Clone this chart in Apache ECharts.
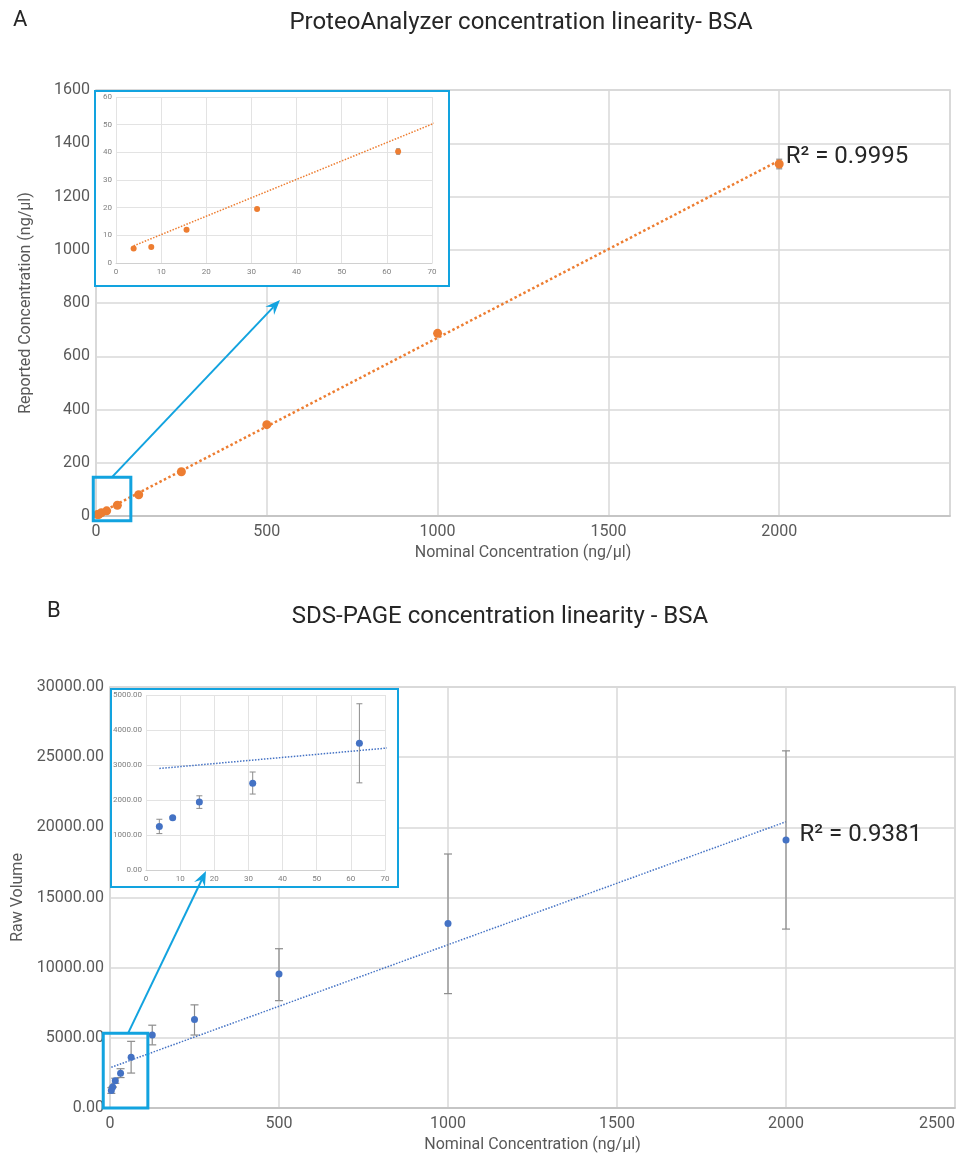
<!DOCTYPE html>
<html><head><meta charset="utf-8">
<script src="https://cdn.jsdelivr.net/npm/echarts@6/dist/echarts.min.js"></script>
<style>html,body{margin:0;padding:0;background:#fff}#c{width:958px;height:1154px}</style>
</head><body><div id="c"></div>
<script>
// ---------- data ----------
const nominal = [3.90625, 7.8125, 15.625, 31.25, 62.5, 125, 250, 500, 1000, 2000];
const proteoReported = [5.2, 5.8, 12.0, 19.5, 40.3, 80, 166, 343, 686, 1322];
const proteoErr = [0.3, 0.3, 0.4, 0.5, 1.0, 2, 3, 4, 6, 18];
const proteoTrend = [[3.90625, 6.2], [2000, 1335]];
const proteoR2 = 'R² = 0.9995';
const sdsRaw = [1240, 1490, 1940, 2480, 3620, 5200, 6300, 9550, 13150, 19100];
const sdsLow = [1040, 1460, 1760, 2170, 2490, 4500, 5200, 7650, 8150, 12750];
const sdsHigh = [1450, 1520, 2120, 2800, 4750, 5900, 7350, 11350, 18100, 25450];
const sdsTrend = [[3.90625, 2900], [2000, 20400]];
const sdsR2 = 'R² = 0.9381';
const titleA = 'ProteoAnalyzer concentration linearity- BSA';
const titleB = 'SDS-PAGE concentration linearity - BSA';
const xName = 'Nominal Concentration (ng/µl)';
const yNameA = 'Reported Concentration (ng/µl)';
const yNameB = 'Raw Volume';
const insetMaxX = 70;

// ---------- styles ----------
const FONT = 'Roboto, "Noto Sans", sans-serif';
const ORANGE = '#ED7D31', BLUE = '#4472C4', CYAN = '#12A3DF';
const GRID = '#d9d9d9', LABEL = '#595959';

const ptsA = nominal.map((x, i) => [x, proteoReported[i]]);
const errA = nominal.map((x, i) => [x, proteoReported[i] - proteoErr[i], proteoReported[i] + proteoErr[i]]);
const ptsB = nominal.map((x, i) => [x, sdsRaw[i]]);
const errB = nominal.map((x, i) => [x, sdsLow[i], sdsHigh[i]]);
const inset = arr => arr.filter(d => d[0] <= insetMaxX);

function errItem(capW, color, lw) {
  return function (params, api) {
    const x = api.value(0), lo = api.value(1), hi = api.value(2);
    const p1 = api.coord([x, hi]), p2 = api.coord([x, lo]);
    const st = { stroke: color, lineWidth: lw };
    return { type: 'group', children: [
      { type: 'line', shape: { x1: p1[0], y1: p1[1], x2: p2[0], y2: p2[1] }, style: st },
      { type: 'line', shape: { x1: p1[0] - capW, y1: p1[1], x2: p1[0] + capW, y2: p1[1] }, style: st },
      { type: 'line', shape: { x1: p2[0] - capW, y1: p2[1], x2: p2[0] + capW, y2: p2[1] }, style: st }
    ]};
  };
}

const plain = v => String(v);
const fmt2 = v => v.toFixed(2);

function mainX(gi, max, showMax) {
  return {
    gridIndex: gi, type: 'value', min: 0, max: max, interval: 500,
    name: xName, nameLocation: 'middle', nameGap: 29,
    nameTextStyle: { fontFamily: FONT, fontSize: 16, color: LABEL },
    axisLine: { show: true, lineStyle: { color: '#bfbfbf', width: 1.5 } },
    axisTick: { show: false },
    axisLabel: { fontFamily: FONT, fontSize: 16, color: LABEL, margin: 8, showMaxLabel: showMax, alignMaxLabel: 'right', formatter: plain },
    splitLine: { show: true, lineStyle: { color: GRID, width: 1.5 } }
  };
}
function mainY(gi, max, interval, name, gap, fmt) {
  return {
    gridIndex: gi, type: 'value', min: 0, max: max, interval: interval,
    name: name, nameLocation: 'middle', nameGap: gap, nameRotate: 90,
    nameTextStyle: { fontFamily: FONT, fontSize: 16, color: LABEL },
    axisLine: { show: false }, axisTick: { show: false },
    axisLabel: { fontFamily: FONT, fontSize: 16, color: LABEL, margin: 6, formatter: fmt },
    splitLine: { show: true, lineStyle: { color: GRID, width: 1.5 } }
  };
}
function insetX(gi) {
  return {
    gridIndex: gi, type: 'value', min: 0, max: 70, interval: 10, z: 60,
    axisLine: { show: true, lineStyle: { color: '#d0d0d0', width: 1 } },
    axisTick: { show: false },
    axisLabel: { fontFamily: FONT, fontSize: 8, color: '#7f7f7f', margin: 5, formatter: plain },
    splitLine: { show: true, lineStyle: { color: '#e3e3e3', width: 1 } }
  };
}
function insetY(gi, max, interval, fmt) {
  return {
    gridIndex: gi, type: 'value', min: 0, max: max, interval: interval, z: 60,
    axisLine: { show: false }, axisTick: { show: false },
    axisLabel: { fontFamily: FONT, fontSize: 8, color: '#7f7f7f', margin: 4, formatter: fmt },
    splitLine: { show: true, lineStyle: { color: '#e3e3e3', width: 1 } }
  };
}

const chart = echarts.init(document.getElementById('c'), null, { renderer: 'canvas' });

const r2Label = (text, offset) => ({
  show: true, position: 'right', distance: 2, offset: offset,
  formatter: text, fontFamily: FONT, fontSize: 24, color: '#262626'
});

const option = {
  animation: false,
  backgroundColor: '#fff',
  grid: [
    { left: 96, top: 90, width: 854, height: 426, show: true, borderColor: '#d0d0d0', borderWidth: 1.5 },
    { left: 116, top: 97, width: 316, height: 166, z: 60 },
    { left: 110, top: 687, width: 845, height: 423, show: true, borderColor: '#d0d0d0', borderWidth: 1.5 },
    { left: 146, top: 695, width: 239, height: 175, z: 60 }
  ],
  xAxis: [ mainX(0, 2500, false), insetX(1), mainX(2, 2500, true), insetX(3) ],
  yAxis: [
    mainY(0, 1600, 200, yNameA, 62, plain),
    insetY(1, 60, 10, plain),
    mainY(2, 30000, 5000, yNameB, 82, fmt2),
    insetY(3, 5000, 1000, fmt2)
  ],
  series: [
    // A main
    { type: 'line', xAxisIndex: 0, yAxisIndex: 0, data: proteoTrend, showSymbol: false, symbol: 'none',
      lineStyle: { color: ORANGE, width: 2.5, type: 'dotted' }, z: 2 },
    { type: 'custom', xAxisIndex: 0, yAxisIndex: 0, data: errA, renderItem: errItem(3, '#8c8c8c', 1.2),
      encode: { x: 0, y: [1, 2] }, z: 3 },
    { type: 'scatter', xAxisIndex: 0, yAxisIndex: 0, symbolSize: 9, itemStyle: { color: ORANGE, opacity: 1 }, z: 4,
      data: ptsA.map((p, i) => i === ptsA.length - 1 ? { value: p, label: r2Label(proteoR2, [0, -7]) } : p) },
    // A inset
    { type: 'line', xAxisIndex: 1, yAxisIndex: 1, data: proteoTrend, showSymbol: false, symbol: 'none', clip: true,
      lineStyle: { color: ORANGE, width: 1.5, type: 'dotted' }, z: 70 },
    { type: 'custom', xAxisIndex: 1, yAxisIndex: 1, data: inset(errA), renderItem: errItem(2, '#8c8c8c', 1),
      encode: { x: 0, y: [1, 2] }, z: 71 },
    { type: 'scatter', xAxisIndex: 1, yAxisIndex: 1, symbolSize: 6, itemStyle: { color: ORANGE, opacity: 1 }, z: 72,
      data: inset(ptsA) },
    // B main
    { type: 'line', xAxisIndex: 2, yAxisIndex: 2, data: sdsTrend, showSymbol: false, symbol: 'none',
      lineStyle: { color: BLUE, width: 1.5, type: 'dotted' }, z: 2 },
    { type: 'custom', xAxisIndex: 2, yAxisIndex: 2, data: errB, renderItem: errItem(4, '#8c8c8c', 1.2),
      encode: { x: 0, y: [1, 2] }, z: 3 },
    { type: 'scatter', xAxisIndex: 2, yAxisIndex: 2, symbolSize: 7, itemStyle: { color: BLUE, opacity: 1 }, z: 4,
      data: ptsB.map((p, i) => i === ptsB.length - 1 ? { value: p, label: r2Label(sdsR2, [8, -5]) } : p) },
    // B inset
    { type: 'line', xAxisIndex: 3, yAxisIndex: 3, data: sdsTrend, showSymbol: false, symbol: 'none', clip: true,
      lineStyle: { color: BLUE, width: 1.5, type: 'dotted' }, z: 70 },
    { type: 'custom', xAxisIndex: 3, yAxisIndex: 3, data: inset(errB), renderItem: errItem(3, '#8c8c8c', 1),
      encode: { x: 0, y: [1, 2] }, z: 71 },
    { type: 'scatter', xAxisIndex: 3, yAxisIndex: 3, symbolSize: 7, itemStyle: { color: BLUE, opacity: 1 }, z: 72,
      data: inset(ptsB) }
  ]
};
chart.setOption(option);

// ---------- annotations (titles, inset frames, highlight boxes, arrows) ----------
function arrow(x1, y1, x2, y2) {
  const ang = Math.atan2(y2 - y1, x2 - x1), L = 15, W = 6;
  const bx = x2 - L * Math.cos(ang), by = y2 - L * Math.sin(ang);
  const nx = -Math.sin(ang), ny = Math.cos(ang);
  const back = 0.35 * L;
  const mx = x2 - (L - back) * Math.cos(ang), my = y2 - (L - back) * Math.sin(ang);
  return [
    { type: 'line', z: 90, shape: { x1: x1, y1: y1, x2: mx, y2: my }, style: { stroke: CYAN, lineWidth: 2 } },
    { type: 'polygon', z: 90, shape: { points: [[x2, y2], [bx + nx * W, by + ny * W], [mx, my], [bx - nx * W, by - ny * W]] },
      style: { fill: CYAN } }
  ];
}
function boxFrom(gi, xa, ya, xb, yb) {
  const p1 = chart.convertToPixel({ gridIndex: gi }, [xa, ya]);
  const p2 = chart.convertToPixel({ gridIndex: gi }, [xb, yb]);
  return { x: Math.min(p1[0], p2[0]), y: Math.min(p1[1], p2[1]), w: Math.abs(p2[0] - p1[0]), h: Math.abs(p2[1] - p1[1]) };
}
const hA = boxFrom(0, -8, 146, 102, -18);
const hB = boxFrom(2, -20, 5320, 112, 0);

const titleStyle = { fontFamily: FONT, fontSize: 24, fill: '#262626', textAlign: 'center', textVerticalAlign: 'middle' };
const elements = [
  { type: 'text', x: 13, y: 20, style: Object.assign({}, titleStyle, { text: 'A', textAlign: 'left', fontSize: 22 }) },
  { type: 'text', x: 521, y: 23, style: Object.assign({}, titleStyle, { text: titleA }) },
  { type: 'text', x: 47, y: 611, style: Object.assign({}, titleStyle, { text: 'B', textAlign: 'left', fontSize: 22 }) },
  { type: 'text', x: 500, y: 617, style: Object.assign({}, titleStyle, { text: titleB }) },
  // inset frames
  { type: 'rect', z: 50, shape: { x: 95, y: 91, width: 354, height: 195 }, style: { fill: '#fff', stroke: CYAN, lineWidth: 2 } },
  { type: 'rect', z: 50, shape: { x: 111, y: 689, width: 287, height: 198 }, style: { fill: '#fff', stroke: CYAN, lineWidth: 2 } },
  // highlight boxes
  { type: 'rect', z: 90, shape: { x: hA.x, y: hA.y, width: hA.w, height: hA.h }, style: { fill: 'none', stroke: CYAN, lineWidth: 3 } },
  { type: 'rect', z: 90, shape: { x: hB.x, y: hB.y, width: hB.w, height: hB.h }, style: { fill: 'none', stroke: CYAN, lineWidth: 3 } }
].concat(arrow(112, hA.y, 280, 300), arrow(128, hB.y, 206, 871));
chart.setOption({ graphic: { elements: elements } });
</script>
</body></html>
